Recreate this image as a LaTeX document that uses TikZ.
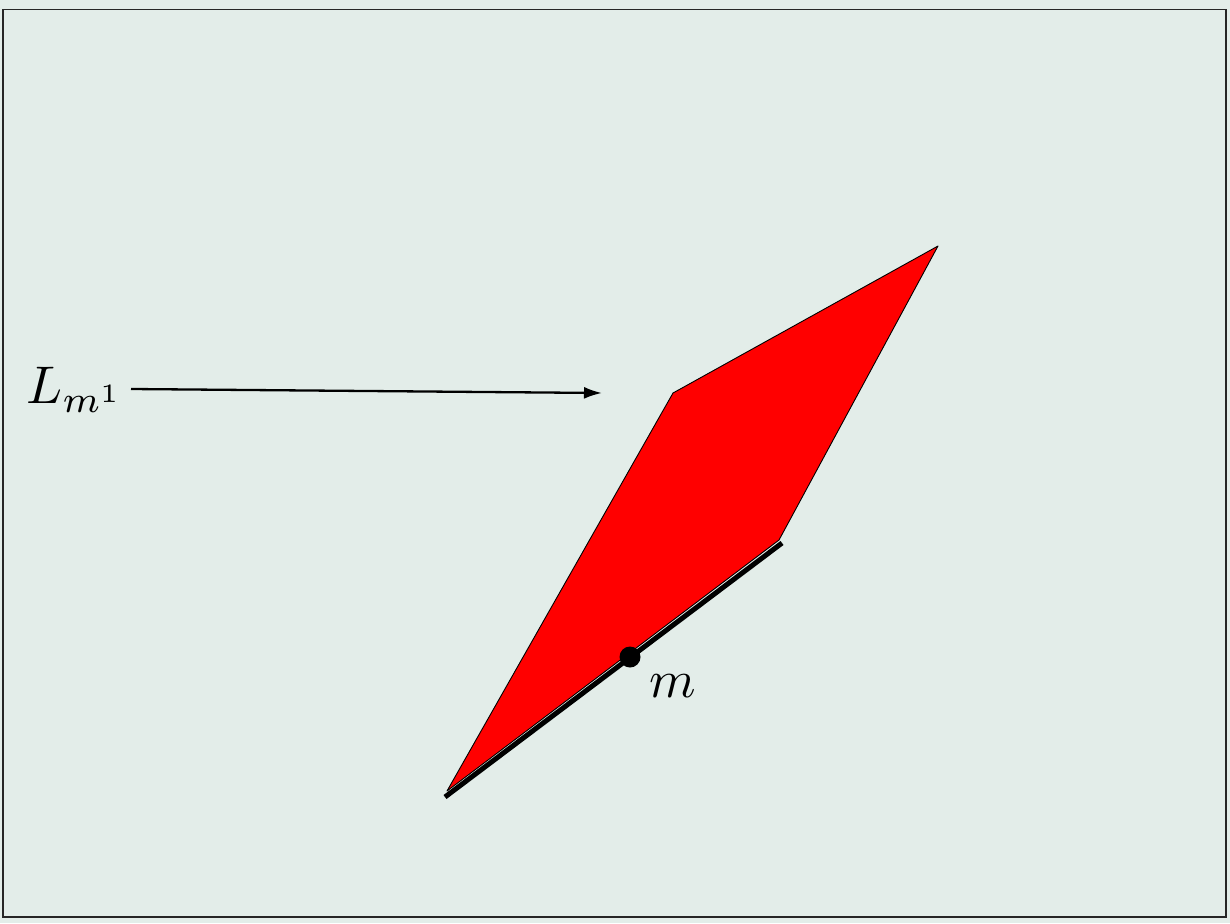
\documentclass[tikz,border=0pt]{standalone}
\usepackage{graphicx}
\usetikzlibrary{arrows.meta}
\definecolor{bgc}{HTML}{E3EDE9}
\definecolor{redfill}{HTML}{FF0000}
\tikzset{
  frame/.style={draw=black!85, line width=1.4pt},
  face/.style={fill=redfill, draw=black, line width=0.9pt, line join=round},
  edge/.style={draw=black, line width=5pt},
  pointer/.style={draw=black, line width=2.3pt, -{Latex[length=18pt,width=12pt]}},
  dotmark/.style={circle, fill=black, inner sep=0pt, minimum size=21pt},
  lab/.style={inner sep=0pt}
}
\newcommand{\bigtxt}[1]{\scalebox{5.3}{#1}}
\begin{document}
\begin{tikzpicture}[x=1pt,y=-1pt]
\fill[bgc] (0,0) rectangle (1230,923);
\useasboundingbox (0,0) rectangle (1230,923);
\draw[frame] (3,9.5) rectangle (1226,917);
\coordinate (A) at (447,791);
\coordinate (B) at (673,393);
\coordinate (C) at (938,246);
\coordinate (D) at (779,540);
\path[face] (A) -- (B) -- (C) -- (D) -- cycle;
\coordinate (E1) at (445,797);
\coordinate (E2) at (782,543);
\draw[edge] (E1) -- (E2);
\node[dotmark] (m) at (630,657) {};
\node[lab] (mlab) at (673,686) {\bigtxt{$m$}};
\node[lab] (L) at (75,390) {\bigtxt{$L_{m^1}$}};
\coordinate (T) at (602,393);
\draw[pointer] (131,389) -- (T);
\end{tikzpicture}
\end{document}
